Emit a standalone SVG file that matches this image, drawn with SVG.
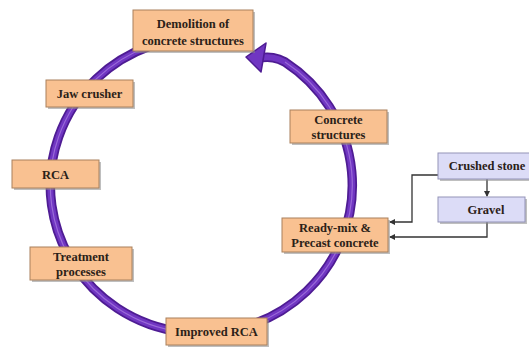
<svg xmlns="http://www.w3.org/2000/svg" width="529" height="347" viewBox="0 0 529 347">
<style>
.box{fill:#f9c191;stroke:#a9805c;stroke-width:1}
.lav{fill:#dcdcf7;stroke:#9393b8;stroke-width:1}
.sh{fill:#8a8a8a;opacity:0.55}
.t{font-family:"Liberation Serif","Times New Roman",serif;font-weight:bold;font-size:12.5px;fill:#2b2118;text-anchor:middle}
.ring{fill:none;stroke:#4e1c93;stroke-width:9.5;stroke-linecap:round}
.ringin{fill:none;stroke:#7036c2;stroke-width:6;stroke-linecap:round}
.ringhi{fill:none;stroke:#9a6ad8;stroke-width:1.2}
.con{fill:none;stroke:#333;stroke-width:1.3}
</style>
<defs>
<marker id="ah" markerWidth="6" markerHeight="6" refX="5" refY="3" orient="auto" markerUnits="userSpaceOnUse">
<path d="M0,0 L6,3 L0,6 z" fill="#333"/>
</marker>
</defs>
<rect width="529" height="347" fill="#ffffff"/>
<g id="connectors">
<path class="ring" d="M150,46 A151,148 0 1 0 285,62 C276,57 270,57 262,57.5"/>
<path class="ringin" d="M150,46 A151,148 0 1 0 285,62 C276,57 270,57 262,57.5"/>
<path class="ringhi" d="M150,46 A151,148 0 1 0 285,62"/>
<polygon points="266,43 246,57 261,72" fill="#7036c2" stroke="#4e1c93" stroke-width="1.5" stroke-linejoin="round"/>
<polyline class="con" points="438,175 412,175 412,222 390,222" marker-end="url(#ah)"/>
<polyline class="con" points="487,222 487,237 390,237" marker-end="url(#ah)"/>
<line class="con" x1="487" y1="179" x2="487" y2="196" marker-end="url(#ah)"/>
</g>
<g id="demolition">
<rect class="sh" x="135" y="12" width="120" height="41"/>
<rect class="box" x="133" y="10" width="120" height="41"/>
<text class="t" x="193" y="28">Demolition of</text>
<text class="t" x="193" y="45">concrete structures</text>
</g>
<g id="jaw-crusher">
<rect class="sh" x="48" y="82" width="87" height="27"/>
<rect class="box" x="46" y="80" width="87" height="27"/>
<text class="t" x="89.5" y="98">Jaw crusher</text>
</g>
<g id="rca">
<rect class="sh" x="14" y="162" width="87" height="28"/>
<rect class="box" x="12" y="160" width="87" height="28"/>
<text class="t" x="55.5" y="179">RCA</text>
</g>
<g id="treatment">
<rect class="sh" x="32" y="249" width="102" height="33"/>
<rect class="box" x="30" y="247" width="102" height="33"/>
<text class="t" x="81" y="261">Treatment</text>
<text class="t" x="81" y="276">processes</text>
</g>
<g id="improved-rca">
<rect class="sh" x="168" y="320" width="101" height="27"/>
<rect class="box" x="166" y="318" width="101" height="27"/>
<text class="t" x="216.5" y="336">Improved RCA</text>
</g>
<g id="ready-mix">
<rect class="sh" x="284" y="220" width="106" height="34"/>
<rect class="box" x="282" y="218" width="106" height="34"/>
<text class="t" x="335" y="232">Ready-mix &amp;</text>
<text class="t" x="335" y="247">Precast concrete</text>
</g>
<g id="concrete-structures">
<rect class="sh" x="292" y="112" width="97" height="33"/>
<rect class="box" x="290" y="110" width="97" height="33"/>
<text class="t" x="338.5" y="124">Concrete</text>
<text class="t" x="338.5" y="139">structures</text>
</g>
<g id="crushed-stone">
<rect class="sh" x="440" y="155" width="100" height="26"/>
<rect class="lav" x="438" y="153" width="100" height="26"/>
<text class="t" x="487" y="170">Crushed stone</text>
</g>
<g id="gravel">
<rect class="sh" x="440" y="199" width="87" height="25"/>
<rect class="lav" x="438" y="197" width="87" height="25"/>
<text class="t" x="486" y="214">Gravel</text>
</g>
</svg>
